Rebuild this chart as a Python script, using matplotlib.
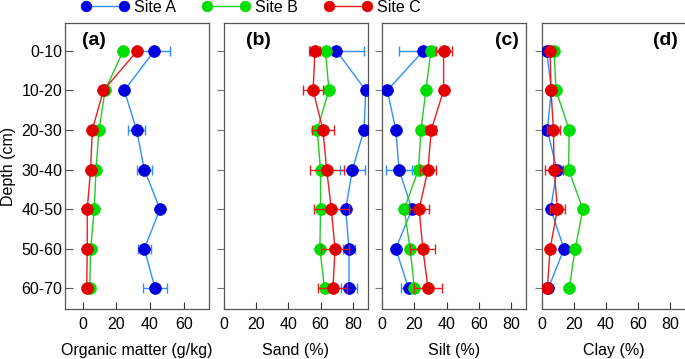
import matplotlib
matplotlib.use("Agg")
import matplotlib.pyplot as plt
import numpy as np

plt.rcParams['font.family'] = ['Liberation Sans', 'DejaVu Sans']

depths = ["0-10", "10-20", "20-30", "30-40", "40-50", "50-60", "60-70"]
sites = ["Site A", "Site B", "Site C"]

om_a = [42.6, 24.7, 32.0, 36.6, 45.9, 36.6, 43.0]
om_b = [24.1, 13.3, 9.7, 7.9, 6.9, 4.7, 4.2]
om_c = [32.5, 12.3, 5.7, 4.7, 2.7, 2.7, 2.4]
om_a_err = [9, 0, 5, 4.5, 0, 4, 7]
om_b_err = [0, 0, 0, 0, 0, 0, 0]
om_c_err = [0, 0, 0, 0, 0, 0, 0]

sand_a = [69.8, 88.1, 87.0, 79.8, 75.6, 77.7, 77.7]
sand_b = [63.1, 65.2, 57.9, 60.0, 60.0, 59.6, 62.5]
sand_c = [56.5, 55.4, 61.5, 63.8, 66.7, 69.0, 67.7]
sand_a_err = [17, 0, 2, 8, 0, 4, 5]
sand_b_err = [0, 0, 0, 0, 0, 0, 0]
sand_c_err = [3, 6, 7, 10.5, 11, 9, 9]

silt_a = [25.6, 3.1, 8.4, 10.4, 18.4, 8.4, 16.3]
silt_b = [30.2, 27.1, 24.0, 22.5, 13.6, 17.3, 20.0]
silt_c = [38.1, 38.1, 30.4, 28.4, 22.9, 25.2, 28.4]
silt_a_err = [15.5, 0, 0, 7.8, 3, 0, 4.6]
silt_b_err = [0, 0, 0, 3, 0, 0, 0]
silt_c_err = [5, 0, 3, 5, 6, 7.8, 9]

clay_a = [3.1, 6.0, 3.5, 9.4, 5.6, 13.9, 4.1]
clay_b = [7.7, 8.9, 17.1, 16.7, 25.6, 20.8, 17.1]
clay_c = [5.2, 5.8, 7.3, 7.7, 9.8, 5.2, 3.5]
clay_a_err = [0, 0, 0, 0, 0, 0, 0]
clay_b_err = [0, 0, 0, 0, 0, 0, 0]
clay_c_err = [0, 0, 4, 5.6, 4.8, 0, 0]

panels = [
    ("(a)", "Organic matter (g/kg)", [om_a, om_b, om_c], [om_a_err, om_b_err, om_c_err],
     (-10.5, 75), [0, 20, 40, 60], "left"),
    ("(b)", "Sand (%)", [sand_a, sand_b, sand_c], [sand_a_err, sand_b_err, sand_c_err],
     (0, 89.5), [0, 20, 40, 60, 80], "left"),
    ("(c)", "Silt (%)", [silt_a, silt_b, silt_c], [silt_a_err, silt_b_err, silt_c_err],
     (0, 89.5), [0, 20, 40, 60, 80], "right"),
    ("(d)", "Clay (%)", [clay_a, clay_b, clay_c], [clay_a_err, clay_b_err, clay_c_err],
     (0, 89.5), [0, 20, 40, 60, 80], "right"),
]

marker_colors = ["#0000dd", "#00dd00", "#e00000"]
line_colors = ["#2f8fff", "#22cc22", "#ee1c1c"]

fig = plt.figure(figsize=(6.85, 3.59), dpi=100)
lefts = [65, 224, 382.3, 541.7]
W, H = 685.0, 359.0
ax_w = 144
y_bot, y_top = 309, 23
FS = 11.5

y = np.arange(len(depths))
handles = []
for i, (lab, xlabel, series, errs, xlim, xticks, side) in enumerate(panels):
    ax = fig.add_axes([lefts[i] / W, 1 - y_bot / H, ax_w / W, (y_bot - y_top) / H])
    for k in range(3):
        e = np.array(errs[k], dtype=float)
        vals = np.array(series[k], dtype=float)
        mask = e > 0
        if mask.any():
            ax.errorbar(vals[mask], y[mask], xerr=e[mask], fmt='none',
                        ecolor=line_colors[k], elinewidth=1.0, capsize=3.5,
                        capthick=1.0, zorder=2 + k)
        h, = ax.plot(vals, y, '-', color=line_colors[k], lw=1.0,
                     marker='o', markersize=8.5, markerfacecolor=marker_colors[k],
                     markeredgecolor=marker_colors[k], markeredgewidth=0.5,
                     zorder=3 + k, label=sites[k])
        if i == 0:
            handles.append(h)
    ax.set_xlim(*xlim)
    ax.set_ylim(6.52, -0.7)
    ax.set_xticks(xticks)
    ax.set_yticks(y)
    if i == 0:
        ax.set_yticklabels(depths, fontsize=FS)
        ax.tick_params(axis='y', direction='in', length=5.5, width=0.8,
                       color='#555555', pad=2)
    else:
        ax.set_yticklabels([])
        ax.tick_params(axis='y', direction='out', length=5, width=0.8,
                       color='#777777', pad=2)
    ax.tick_params(axis='x', direction='in', length=5, width=0.8, labelsize=FS,
                   pad=6, color='#333333')
    for s in ax.spines.values():
        s.set_color('#555555')
        s.set_linewidth(0.9)
    ax.set_xlabel(xlabel, fontsize=FS, labelpad=8)
    if side == "left":
        ax.text(0.115 if i == 0 else 0.15, 0.94, lab, transform=ax.transAxes,
                fontsize=14, fontweight='bold', ha='left', va='center')
    else:
        ax.text(0.945, 0.94, lab, transform=ax.transAxes,
                fontsize=14, fontweight='bold', ha='right', va='center')

fig.text(8.5 / W, 1 - 166 / H, "Depth (cm)", rotation=90, fontsize=FS,
         ha='center', va='center')

fig.legend(handles=handles, labels=sites, loc='center', ncol=3,
           bbox_to_anchor=(251 / W, 1 - 7 / H), frameon=False, numpoints=2,
           handlelength=3.0, handletextpad=0.35, columnspacing=1.6,
           fontsize=FS, borderaxespad=0, markerscale=0.9)

fig.savefig("out.png", dpi=100)
